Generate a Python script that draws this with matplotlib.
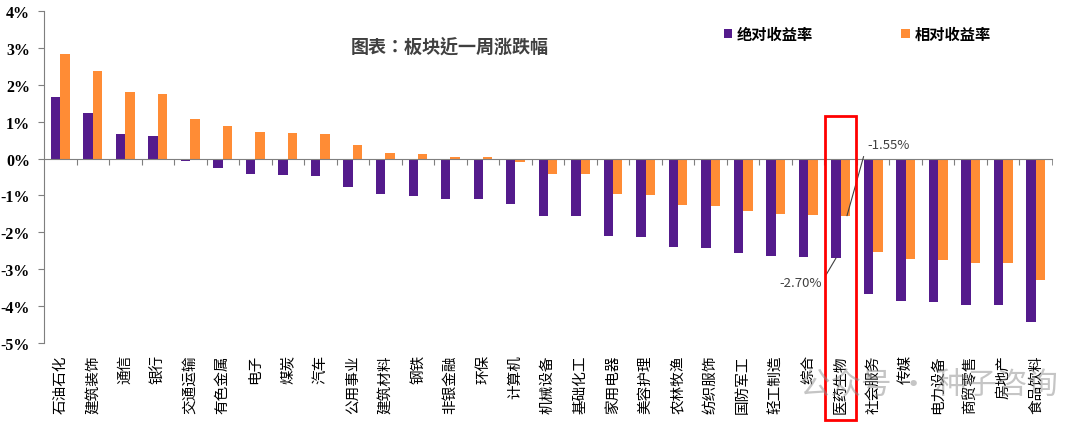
import matplotlib
matplotlib.use('Agg')
import matplotlib.pyplot as plt
from matplotlib.patches import Rectangle
import numpy as np

# data (%)
sectors = ['石油石化', '建筑装饰', '通信', '银行', '交通运输', '有色金属', '电子', '煤炭',
           '汽车', '公用事业', '建筑材料', '钢铁', '非银金融', '环保', '计算机', '机械设备',
           '基础化工', '家用电器', '美容护理', '农林牧渔', '纺织服饰', '国防军工', '轻工制造',
           '综合', '医药生物', '社会服务', '传媒', '电力设备', '商贸零售', '房地产', '食品饮料']
abs_ret = [1.68, 1.23, 0.67, 0.62, -0.07, -0.26, -0.42, -0.44, -0.47, -0.76, -0.97, -1.02,
           -1.09, -1.09, -1.23, -1.55, -1.57, -2.09, -2.14, -2.40, -2.42, -2.57, -2.65,
           -2.67, -2.70, -3.67, -3.86, -3.90, -3.96, -3.96, -4.43]
rel_ret = [2.84, 2.38, 1.81, 1.76, 1.08, 0.88, 0.73, 0.70, 0.67, 0.38, 0.16, 0.12,
           0.05, 0.05, -0.09, -0.42, -0.43, -0.95, -1.00, -1.26, -1.28, -1.43, -1.51,
           -1.53, -1.55, -2.54, -2.71, -2.76, -2.83, -2.84, -3.30]
y_ticks = [4, 3, 2, 1, 0, -1, -2, -3, -4, -5]
highlight = '医药生物'

purple = '#541B8C'
orange = '#FF8C35'
cjk = ['Noto Sans CJK SC', 'DejaVu Sans']

plt.rcParams['axes.unicode_minus'] = False

fig = plt.figure(figsize=(10.8, 4.27), dpi=100)
fig.patch.set_facecolor('white')
ax = fig.add_axes([44 / 1080, (427 - 344) / 427, (1052 - 44) / 1080, 332 / 427])

x = np.arange(len(sectors))
w = 0.29
ax.bar(x - w / 2, abs_ret, w, color=purple, label='绝对收益率')
ax.bar(x + w / 2, rel_ret, w, color=orange, label='相对收益率')

ax.set_xlim(-0.5, len(sectors) - 0.5)
ax.set_ylim(-5, 4)

# spines: left axis and zero line only
for s in ['top', 'right']:
    ax.spines[s].set_visible(False)
ax.spines['bottom'].set_position(('data', 0))
ax.spines['bottom'].set_color('#7f7f7f')
ax.spines['left'].set_color('#7f7f7f')

ax.set_xticks(x[:-1] + 0.5)
ax.set_xticks([len(sectors) - 0.5], minor=True)
ax.tick_params(axis='x', which='both', direction='out', length=4, color='#7f7f7f',
               labelbottom=False)
ax.set_yticks(y_ticks)
ax.set_yticklabels([f'{v}%' for v in y_ticks], fontfamily='Liberation Serif',
                   fontweight='bold', fontsize=11.5)
ax.tick_params(axis='y', direction='out', length=4, color='#7f7f7f', pad=6)

# vertical category labels under the plot
for i, name in enumerate(sectors):
    ax.annotate(name, xy=(i, -5), xytext=(0, -8), textcoords='offset points',
                rotation=90, ha='center', va='top', fontsize=10.5, family=cjk,
                color='black', annotation_clip=False)

# title and legend
fig.text(450 / 1080, 1 - 47 / 427, '图表：板块近一周涨跌幅', ha='center', va='center',
         fontsize=13, fontweight='bold', color='#404040',
         family=['Noto Sans CJK TC', 'DejaVu Sans'])
leg = ax.legend(ncol=2, loc='center left', bbox_to_anchor=(716 / 1080, 1 - 35 / 427),
                bbox_transform=fig.transFigure, frameon=False, handlelength=0.55,
                handleheight=0.55, handletextpad=0.3, columnspacing=5.8, borderpad=0,
                prop={'family': cjk, 'weight': 'bold', 'size': 11})

# highlight box and callouts
k = sectors.index(highlight)
ax.add_patch(Rectangle((k - 0.48, -7.1), 0.96, 8.26, fill=False, edgecolor='#FF0000',
                       linewidth=2, transform=ax.transData, clip_on=False, zorder=5))
ax.annotate(f'{rel_ret[k]:.2f}%', xy=(k + w / 2 + 0.05, rel_ret[k]), xytext=(k + 0.81, 0.38),
            ha='left', va='center', fontsize=9.5, color='#404040', family=cjk,
            arrowprops=dict(arrowstyle='-', color='#404040', lw=0.8,
                            relpos=(0, 0.5), shrinkA=2, shrinkB=0))
ax.annotate(f'{abs_ret[k]:.2f}%', xy=(k - w / 2, abs_ret[k]), xytext=(k - 0.58, -3.35),
            ha='right', va='center', fontsize=9.5, color='#404040', family=cjk,
            arrowprops=dict(arrowstyle='-', color='#404040', lw=0.8,
                            relpos=(1, 0.5), shrinkA=2, shrinkB=0))

# watermark
fig.text(800 / 1080, 1 - 385 / 427, '公众号 · 种子咨询', ha='left', va='center',
         fontsize=22, color='#8c8c8c', alpha=0.5, family=cjk)

fig.savefig('out.png', dpi=100, facecolor='white')
